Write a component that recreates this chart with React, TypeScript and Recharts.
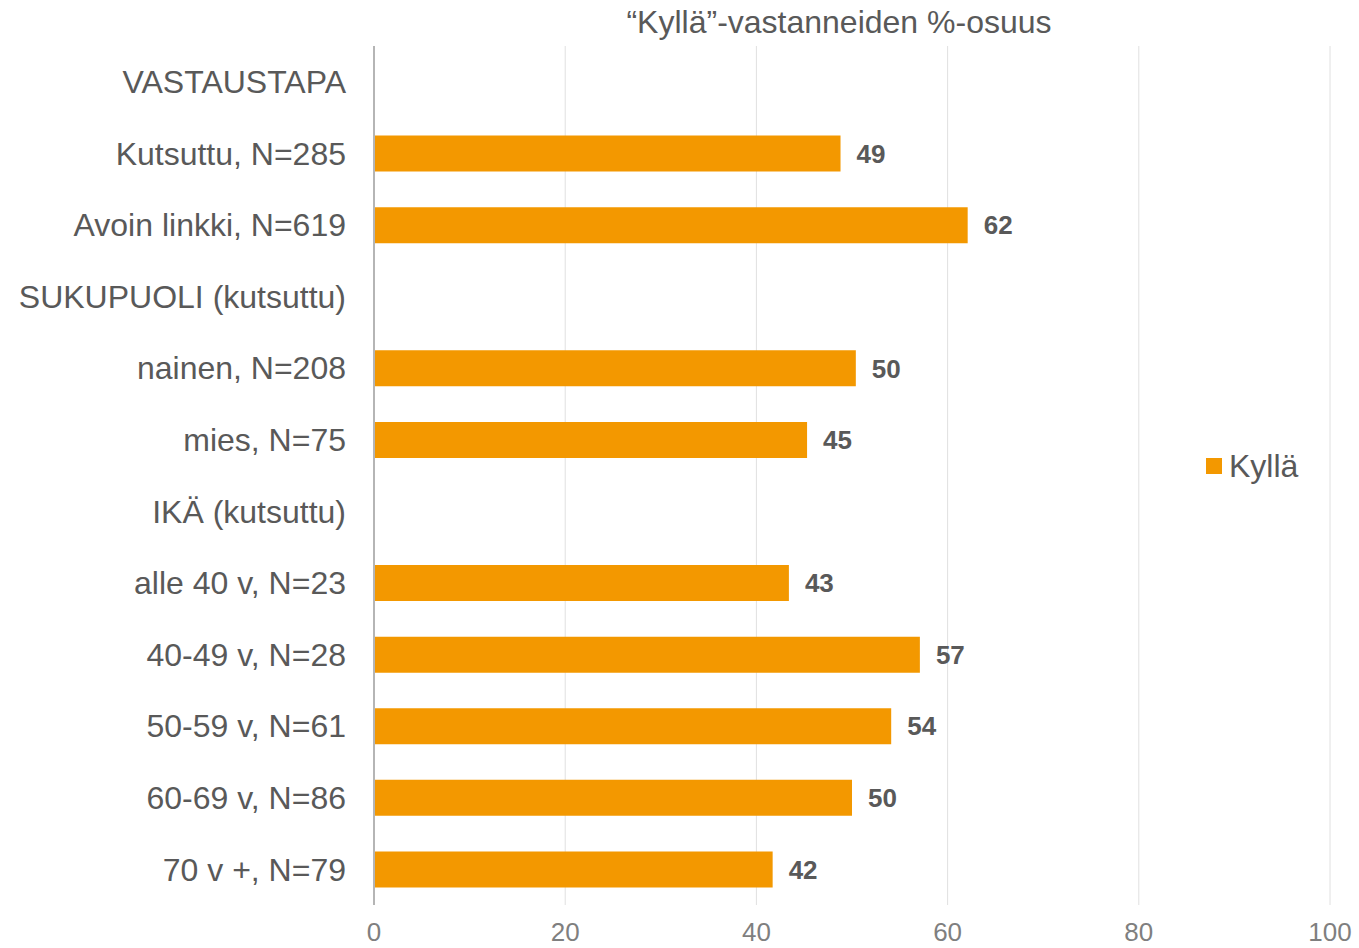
import React from 'react';
import { BarChart, Bar, XAxis, YAxis, CartesianGrid, Legend, LabelList } from 'recharts';

// Row labels (top to bottom) and the share of "Kyllä" answers
const categories = [
  'VASTAUSTAPA',
  'Kutsuttu, N=285',
  'Avoin linkki, N=619',
  'SUKUPUOLI (kutsuttu)',
  'nainen, N=208',
  'mies, N=75',
  'IKÄ (kutsuttu)',
  'alle 40 v, N=23',
  '40-49 v, N=28',
  '50-59 v, N=61',
  '60-69 v, N=86',
  '70 v +, N=79'
];
const kyllaValues = [null, 48.8, 62.1, null, 50.4, 45.3, null, 43.4, 57.1, 54.1, 50.0, 41.7];
const xTicks = [0, 20, 40, 60, 80, 100];

const seriesName = 'Kyllä';
const title = '“Kyllä”-vastanneiden %-osuus';

const FONT = '"Liberation Sans", Arial, sans-serif';
const ORANGE = '#F39800';

const data = categories.map((name, i) => ({ name, value: kyllaValues[i] }));

const LegendBox = () => (
  <div style={{ display: 'flex', alignItems: 'center', height: 36, fontFamily: FONT }}>
    <div style={{ width: 16, height: 16, backgroundColor: ORANGE, marginRight: 7 }} />
    <span style={{ fontSize: 32, color: '#595959', lineHeight: '36px' }}>{seriesName}</span>
  </div>
);

const App: React.FC = () => {
  return (
    <div style={{ position: 'absolute', left: 0, top: 0, width: 1359, height: 948, background: '#fff' }}>
      <div
        style={{
          position: 'absolute',
          left: 839,
          top: 5,
          transform: 'translateX(-50%)',
          whiteSpace: 'nowrap',
          fontFamily: FONT,
          fontSize: 32,
          lineHeight: '35px',
          color: '#595959'
        }}
      >
        {title}
      </div>
      <BarChart
        width={1359}
        height={948}
        data={data}
        layout="vertical"
        margin={{ top: 46, right: 29, bottom: 0, left: 0 }}
      >
        <CartesianGrid horizontal={false} vertical={true} stroke="#e0e0e0" strokeWidth={1} />
        <XAxis
          type="number"
          domain={[0, 100]}
          ticks={xTicks}
          axisLine={false}
          tickLine={false}
          tickSize={0}
          tickMargin={18}
          height={43}
          tick={{ fill: '#7f7f7f', fontSize: 26, fontFamily: FONT }}
        />
        <YAxis
          type="category"
          dataKey="name"
          width={374}
          axisLine={{ stroke: '#b5b5b5', strokeWidth: 2 }}
          tickLine={false}
          tickSize={0}
          tickMargin={28}
          interval={0}
          tick={{ fill: '#595959', fontSize: 32, fontFamily: FONT }}
        />
        <Legend
          layout="horizontal"
          verticalAlign="middle"
          align="center"
          wrapperStyle={{ left: 1206, top: 448, width: 'auto' }}
          content={() => <LegendBox />}
        />
        <Bar dataKey="value" name={seriesName} fill={ORANGE} barSize={36} isAnimationActive={false}>
          <LabelList
            dataKey="value"
            position="right"
            offset={16}
            formatter={(v: any) => (v == null ? '' : Math.round(Number(v)))}
            style={{ fill: '#595959', fontSize: 26, fontWeight: 'bold', fontFamily: FONT }}
          />
        </Bar>
      </BarChart>
    </div>
  );
};

export default App;
